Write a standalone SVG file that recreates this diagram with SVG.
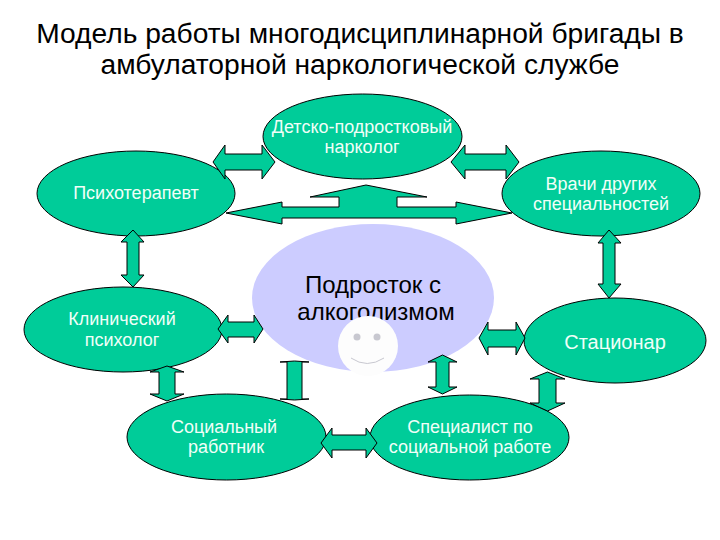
<svg xmlns="http://www.w3.org/2000/svg" width="720" height="540" viewBox="0 0 720 540">
<style>
text{font-family:"Liberation Sans",Arial,sans-serif;text-anchor:middle}
.title{font-size:28.200px;fill:#000}
.lbl{font-size:18px;fill:#f0fff8}
.big{font-size:20px}
.ctr{font-size:24px;fill:#000}
.n{fill:#00cc99;stroke:#000;stroke-width:1}
.a{fill:#00cc99;stroke:#000;stroke-width:1;stroke-linejoin:miter}
</style>
<rect width="720" height="540" fill="#fff"/>
<g id="title">
<text class="title" x="360" y="43">Модель работы многодисциплинарной бригады в</text>
<text class="title" x="360" y="74">амбулаторной наркологической службе</text>
</g>
<g id="center">
<ellipse cx="373" cy="298" rx="121" ry="74" fill="#ccccff"/>
<text class="ctr" x="373" y="293">Подросток с</text>
<text class="ctr" x="376" y="320">алкоголизмом</text>
<circle cx="368" cy="346" r="30" fill="#fdfdfd"/>
<circle cx="357" cy="337" r="3.500" fill="#c8c8d0"/>
<circle cx="377" cy="337" r="3.500" fill="#c8c8d0"/>
<path d="M351 358Q367 369 384 358" fill="none" stroke="#c8c8d0" stroke-width="1"/>
</g>
<g id="node-narcologist">
<ellipse class="n" cx="362.500" cy="136.500" rx="99.500" ry="42.500"/>
<text class="lbl" x="362" y="133">Детско-подростковый</text>
<text class="lbl" x="362" y="153">нарколог</text>
</g>
<g id="node-psychotherapist">
<ellipse class="n" cx="136" cy="193.500" rx="99" ry="42.500"/>
<text class="lbl" x="136" y="199">Психотерапевт</text>
</g>
<g id="node-doctors">
<ellipse class="n" cx="601" cy="193.500" rx="99" ry="42.500"/>
<text class="lbl" x="601" y="190">Врачи других</text>
<text class="lbl" x="601" y="210">специальностей</text>
</g>
<g id="node-psychologist">
<ellipse class="n" cx="123" cy="329.500" rx="99" ry="42.500"/>
<text class="lbl" x="122" y="325">Клинический</text>
<text class="lbl" x="122" y="346">психолог</text>
</g>
<g id="node-hospital">
<ellipse class="n" cx="615" cy="340.500" rx="91" ry="42.500"/>
<text class="lbl big" x="615" y="349">Стационар</text>
</g>
<g id="node-social-worker">
<ellipse class="n" cx="226.500" cy="437" rx="99.500" ry="43"/>
<text class="lbl" x="224" y="433">Социальный</text>
<text class="lbl" x="226" y="453">работник</text>
</g>
<g id="node-specialist">
<ellipse class="n" cx="469.500" cy="437.500" rx="99.500" ry="42.500"/>
<text class="lbl" x="470" y="433">Специалист по</text>
<text class="lbl" x="470" y="453">социальной работе</text>
</g>
<g id="connectors">
<path class="a" d="M213 162L225 145V154H262V145L275 162L262 179V170H225V179Z"/>
<path class="a" d="M451 162L465 145V154H506V145L519 162L506 179V170H465V179Z"/>
<path class="a" d="M226 213L282 202V207H339V197H310L366 185L427 197H397V207H456V202L512 213L456 224V218H282V224Z"/>
<path class="a" d="M133 230L144 242H139V275H144L133 287L121 275H127V242H121Z"/>
<path class="a" d="M609 230L621 243H615V284H621L609 298L598 284H603V243H598Z"/>
<path class="a" d="M218 329L228 315V322H254V315L263 329L254 343V337H228V343Z"/>
<path class="a" d="M479 338L488 322V330H516V322L525 338L516 355V347H488V355Z"/>
<path class="a" d="M167 366L184 372H175V394H184L167 401L150 394H159V372H150Z"/>
<path class="a" d="M294.500 361L309 362H302V399H309L294.500 400L280 399H287V362H280Z"/>
<path class="a" d="M442.500 355L457 362H449V387H457L442.500 394L428 387H436V362H428Z"/>
<path class="a" d="M547.500 372L565 379H556V403H565L547.500 411L530 403H539V379H530Z"/>
<path class="a" d="M321 443L332 428V435H366V428L377 443L366 458V450H332V458Z"/>
</g>
</svg>
